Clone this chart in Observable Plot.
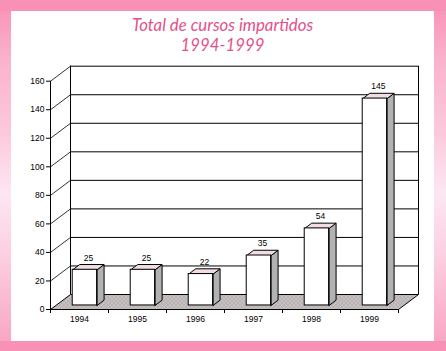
<!DOCTYPE html>
<html>
<head>
<meta charset="utf-8">
<script src="https://cdn.jsdelivr.net/npm/d3@7"></script>
<script src="https://cdn.jsdelivr.net/npm/@observablehq/plot@0.6"></script>
<style>
  html, body { margin: 0; padding: 0; background: #fff; }
  #frame { position: relative; width: 446px; height: 351px; overflow: hidden;
    background: linear-gradient(to bottom, #f990b5 0%, #fab4cd 18%, #fcc9dc 38%, #fde6f3 55%, #fcd0e2 72%, #f9a2c0 100%); }
  #topbar { position: absolute; left: 0; top: 0; width: 446px; height: 11px; background: #f990b5; }
  #botbar { position: absolute; left: 0; top: 341px; width: 446px; height: 10px; background: #f990b5; }
  #panel { position: absolute; left: 11px; top: 11px; width: 423px; height: 330px; background: #fff; }
  #title { height: 43px; padding-top: 4px; text-align: center; color: #e4508a;
    font-family: Lato, "Open Sans", sans-serif; font-style: italic; font-size: 16.8px; }
  #title div { height: 20.3px; line-height: 20.3px; white-space: nowrap; }
  #chart svg { display: block; }
</style>
</head>
<body>
<div id="frame">
  <div id="topbar"></div>
  <div id="botbar"></div>
  <div id="panel">
    <div id="title"><div>Total de cursos impartidos</div><div>1994-1999</div></div>
    <div id="chart"></div>
  </div>
</div>
<script>
// ---- data ----
const years = ["1994", "1995", "1996", "1997", "1998", "1999"];
const courses = [25, 25, 22, 35, 54, 145];
const yTicks = [0, 20, 40, 60, 80, 100, 120, 140, 160];

// ---- layout (pseudo-3D projection, in scale units) ----
const W = 423, H = 283;
const mLeft = 39, mRight = 16, mBottom = 32;
const pxPerX = 58;                 // px per category
const pxPerY = (309 - 80.7) / 160; // px per course
const depthPx = [20, 15];          // wall depth offset in px
const DX = depthPx[0] / pxPerX;
const DY = depthPx[1] / pxPerY;
const n = years.length;
const yMax = 160;
const mTop = H - mBottom - (yMax + DY) * pxPerY;
const BW = 0.42;   // bar width (category units)
const BF = 0.27;   // bar front depth fraction
const BD = 0.35;   // bar depth fraction

const floor = [[0, 0], [n, 0], [n + DX, DY], [DX, DY], [0, 0]].map(([x, y]) => ({x, y}));

const faces = [];
courses.forEach((v, i) => {
  const x1 = i + 0.5 + BF * DX - BW / 2, x2 = x1 + BW;
  const y0 = BF * DY, yt = v + y0, ddx = BD * DX, ddy = BD * DY;
  [[x2, y0], [x2 + ddx, y0 + ddy], [x2 + ddx, yt + ddy], [x2, yt], [x2, y0]]
    .forEach(([x, y]) => faces.push({id: "s" + i, kind: "side", x, y}));
  [[x1, yt], [x2, yt], [x2 + ddx, yt + ddy], [x1 + ddx, yt + ddy], [x1, yt]]
    .forEach(([x, y]) => faces.push({id: "t" + i, kind: "top", x, y}));
});
const bars = courses.map((v, i) => {
  const x1 = i + 0.5 + BF * DX - BW / 2;
  return {year: years[i], v, x1, x2: x1 + BW, y1: BF * DY, y2: v + BF * DY,
          lx: x1 + BW / 2 + BD * DX / 2, ly: v + BF * DY + BD * DY};
});

const chart = Plot.plot({
  width: W, height: H,
  marginLeft: mLeft, marginRight: mRight, marginTop: mTop, marginBottom: mBottom,
  style: {fontFamily: "'Liberation Sans', Arial, sans-serif", fontSize: "8.5px", background: "transparent", color: "#000"},
  x: {domain: [0, n + DX], ticks: d3.range(0, n + 1), tickFormat: () => "", tickSize: 4, label: null},
  y: {domain: [0, yMax + DY], ticks: yTicks, tickSize: 4, tickPadding: 2, label: null},
  marks: [
    // back wall gridlines
    Plot.ruleY(yTicks.slice(1), {y: d => d + DY, x1: DX, x2: n + DX, stroke: "#000", strokeWidth: 1}),
    // back wall edges
    Plot.ruleX([DX, n + DX], {y1: DY, y2: yMax + DY, stroke: "#000"}),
    // left wall diagonals
    Plot.link(yTicks.slice(1), {x1: 0, y1: d => d, x2: DX, y2: d => d + DY, stroke: "#000", strokeWidth: 0.8}),
    // front axis line
    Plot.ruleX([0], {y1: 0, y2: yMax, stroke: "#000"}),
    // floor
    Plot.line(floor, {x: "x", y: "y", fill: "url(#floorDots)", stroke: "#000", strokeWidth: 1}),
    // bar 3d faces
    Plot.line(faces, {x: "x", y: "y", z: "id", fill: d => d.kind === "side" ? "#b2b2b2" : "#f1dde3", stroke: "#000", strokeWidth: 1}),
    // bar fronts
    Plot.rect(bars, {x1: "x1", x2: "x2", y1: "y1", y2: "y2", fill: "#fff", stroke: "#000", strokeWidth: 1}),
    // value labels
    Plot.text(bars, {x: "lx", y: "ly", text: d => String(d.v), lineAnchor: "bottom", dy: -4, fill: "#000"}),
    // category labels
    Plot.text(years, {x: (d, i) => i + 0.5, y: 0, text: d => d, lineAnchor: "top", dy: 6, fill: "#000"})
  ]
});

// dotted floor pattern
const defs = d3.select(chart).insert("defs", ":first-child");
const pat = defs.append("pattern").attr("id", "floorDots").attr("patternUnits", "userSpaceOnUse")
  .attr("width", 4).attr("height", 4);
pat.append("rect").attr("width", 4).attr("height", 4).attr("fill", "#bab3b3");
pat.append("rect").attr("x", 0).attr("y", 0).attr("width", 1).attr("height", 1).attr("fill", "#ece6e6");
pat.append("rect").attr("x", 2).attr("y", 2).attr("width", 1).attr("height", 1).attr("fill", "#ece6e6");

document.getElementById("chart").appendChild(chart);
</script>
</body>
</html>
